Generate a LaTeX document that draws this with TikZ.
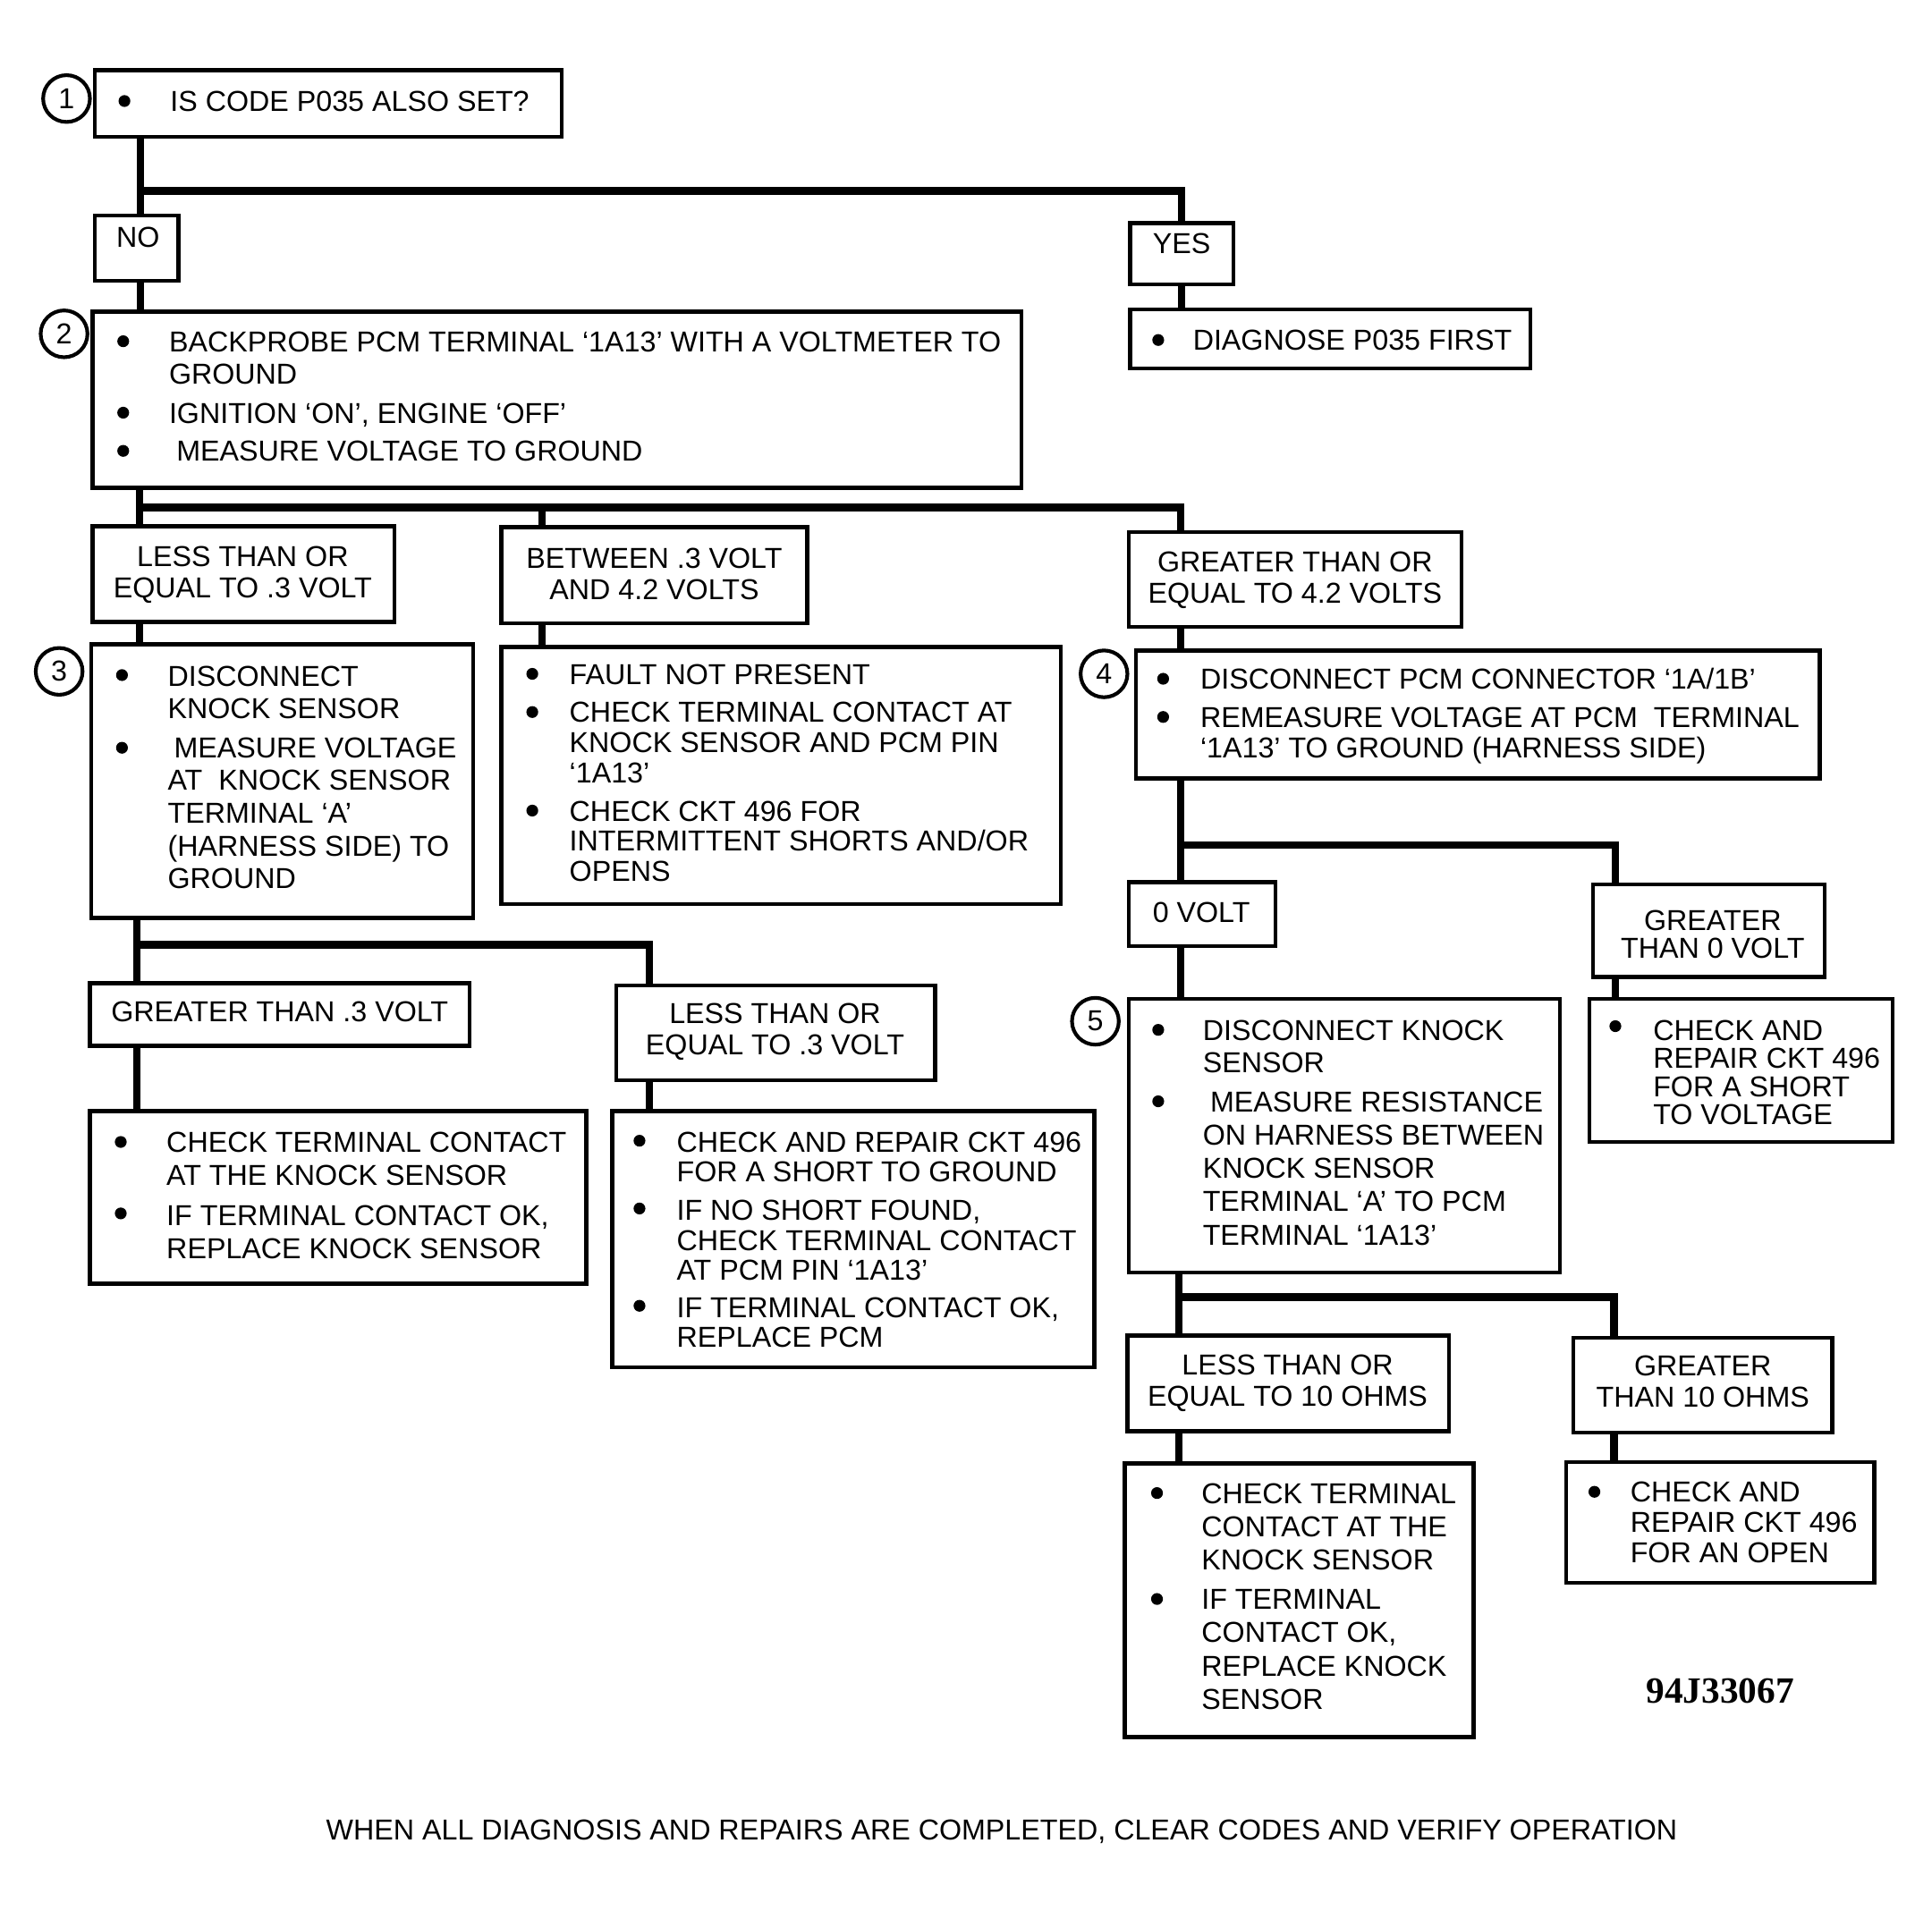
\documentclass[tikz,border=0pt]{standalone}
\usepackage{fontspec}
\setmainfont{Liberation Sans}
\newfontfamily\codefont{Liberation Serif}
\usetikzlibrary{fit}
\newcommand\fs{\fontsize{23.4pt}{27pt}\selectfont}
\newcommand\itemlines[2]{{\fontsize{23.4pt}{#1pt}\selectfont\begin{tabular}[t]{@{}l@{}}#2\end{tabular}}}
\newcommand\clines[2]{{\fontsize{23.4pt}{#1pt}\selectfont\begin{tabular}[t]{@{}c@{}}#2\end{tabular}}}
\begin{document}
\begin{tikzpicture}[x=1pt,y=-1pt,
  box/.style={draw, line width=3.3pt, rectangle, inner sep=0pt},
  conn/.style={line width=6pt, line join=miter},
  num/.style={draw, circle, line width=3pt, minimum size=38pt, inner sep=0pt, font=\fs},
  txt/.style={anchor=base west, inner sep=0pt},
  lbl/.style={anchor=base, inner sep=0pt}]
\useasboundingbox (0,0) rectangle (1568,1551);

% ---------- boxes ----------
\node[box, fit={(77,57) (456,111)}] (b1) {};
\node[box, fit={(77,175) (145,228)}] (no) {};
\node[box, fit={(917,181) (1001,231)}] (yes) {};
\node[box, fit={(917,251) (1242,299)}] (diag) {};
\node[box, fit={(75,253) (829,396)}] (b2) {};
\node[box, fit={(75,427) (320,505)}] (lessA) {};
\node[box, fit={(407,428) (655,506)}] (btw) {};
\node[box, fit={(916,432) (1186,509)}] (gtA) {};
\node[box, fit={(74,523) (384,745)}] (b3) {};
\node[box, fit={(407,525) (861,734)}] (btwres) {};
\node[box, fit={(922,528) (1477,632)}] (b4) {};
\node[box, fit={(73,798) (381,849)}] (gt3) {};
\node[box, fit={(500,800) (759,877)}] (le3b) {};
\node[box, fit={(73,902) (476,1042)}] (gt3res) {};
\node[box, fit={(497,902) (888,1110)}] (le3bres) {};
\node[box, fit={(916,716) (1035,768)}] (zv) {};
\node[box, fit={(1293,718) (1481,793)}] (gt0) {};
\node[box, fit={(916,811) (1266,1033)}] (b5) {};
\node[box, fit={(1290,811) (1536,927)}] (gt0res) {};
\node[box, fit={(915,1084) (1176,1162)}] (le10) {};
\node[box, fit={(1277,1086) (1487,1163)}] (gt10) {};
\node[box, fit={(913,1188) (1196,1410)}] (le10res) {};
\node[box, fit={(1271,1187) (1521,1285)}] (gt10res) {};

% ---------- step numbers ----------
\node[num] (c1) at (54,80) {1};
\node[num] (c2) at (52,271) {2};
\node[num] (c3) at (48,545) {3};
\node[num] (c4) at (896,547) {4};
\node[num] (c5) at (889,829) {5};

% ---------- connectors ----------
\coordinate (j1) at (114,155);
\draw[conn] (b1.south -| j1) -- (no.north -| j1);
\draw[conn] (j1) -| (yes.north);
\draw[conn] (no.south -| j1) -- (b2.north -| j1);
\draw[conn] (yes.south) -- (diag.north -| yes.south);

\coordinate (j2) at (113,412);
\coordinate (j2b) at (440,412);
\coordinate (j2c) at (958,412);
\draw[conn] (b2.south -| j2) -- (lessA.north -| j2);
\draw[conn] (j2) -- (j2c) -- (j2c |- gtA.north);
\draw[conn] (j2b) -- (j2b |- btw.north);
\draw[conn] (lessA.south -| j2) -- (b3.north -| j2);
\draw[conn] (btw.south -| j2b) -- (btwres.north -| j2b);
\draw[conn] (gtA.south -| j2c) -- (b4.north -| j2c);

\coordinate (j3) at (111,767);
\coordinate (j3r) at (527,767);
\draw[conn] (b3.south -| j3) -- (gt3.north -| j3);
\draw[conn] (j3) -- (j3r) -- (j3r |- le3b.north);
\draw[conn] (gt3.south -| j3) -- (gt3res.north -| j3);
\draw[conn] (le3b.south -| j3r) -- (le3bres.north -| j3r);

\coordinate (j4) at (958,686);
\coordinate (j4r) at (1311,686);
\draw[conn] (b4.south -| j4) -- (zv.north -| j4);
\draw[conn] (j4) -- (j4r) -- (j4r |- gt0.north);
\draw[conn] (zv.south -| j4) -- (b5.north -| j4);
\draw[conn] (gt0.south -| j4r) -- (gt0res.north -| j4r);

\coordinate (j5) at (957,1053);
\coordinate (j5r) at (1310,1053);
\draw[conn] (b5.south -| j5) -- (le10.north -| j5);
\draw[conn] (j5) -- (j5r) -- (j5r |- gt10.north);
\draw[conn] (le10.south -| j5) -- (le10res.north -| j5);
\draw[conn] (gt10.south -| j5r) -- (gt10res.north -| j5r);

% ---------- box labels ----------
\node[lbl] (lno) at (112,201) {\clines{25.5}{NO}};
\node[lbl] (lyes) at (959,206) {\clines{25.5}{YES}};
\node[lbl] (llessA) at (197,459.5) {\clines{25.5}{LESS THAN OR\\EQUAL TO .3 VOLT}};
\node[lbl] (lbtw) at (531,461) {\clines{25.5}{BETWEEN .3 VOLT\\AND 4.2 VOLTS}};
\node[lbl] (lgtA) at (1051,464) {\clines{25.5}{GREATER THAN OR\\EQUAL TO 4.2 VOLTS}};
\node[lbl] (lgt3) at (227,829.5) {\clines{25.5}{GREATER THAN .3 VOLT}};
\node[lbl] (lle3b) at (629,831) {\clines{25.5}{LESS THAN OR\\EQUAL TO .3 VOLT}};
\node[lbl] (lzv) at (975,748.5) {\clines{25.5}{0 VOLT}};
\node[lbl] (lgt0) at (1390,755) {\clines{21}{GREATER\\THAN 0 VOLT}};
\node[lbl] (lle10) at (1045,1116) {\clines{25.5}{LESS THAN OR\\EQUAL TO 10 OHMS}};
\node[lbl] (lgt10) at (1382,1117) {\clines{25.5}{GREATER\\THAN 10 OHMS}};

% ---------- bullets ----------
\foreach \p in {(101,82),(940,276),(100,277),(100,335),(100,366),
  (99,548),(99,607),(432,547),(432,578),(432,658),(944,551),(944,582),
  (940,836),(940,894),(1311,833),(939,1212),(939,1298),(1294,1211),
  (98,927),(98,985),(519,926),(519,981),(519,1060)}
  \fill \p circle (4.8pt);

% ---------- texts ----------
\node[txt] (t1) at (138,90.5) {\itemlines{27}{IS CODE P035 ALSO SET?}};
\node[txt] (tdiag) at (968,284.5) {\itemlines{27}{DIAGNOSE P035 FIRST}};
\node[txt] (t2a) at (137,285.5) {\itemlines{26}{BACKPROBE PCM TERMINAL ‘1A13’ WITH A VOLTMETER TO\\GROUND}};
\node[txt] (t2b) at (137,343.5) {\itemlines{27}{IGNITION ‘ON’, ENGINE ‘OFF’}};
\node[txt] (t2c) at (143,374.5) {\itemlines{27}{MEASURE VOLTAGE TO GROUND}};

\node[txt] (t3a) at (136,557) {\itemlines{26}{DISCONNECT\\KNOCK SENSOR}};
\node[txt] (t3b) at (136,615) {\itemlines{26.6}{\hspace*{5pt}MEASURE VOLTAGE\\AT\ \ KNOCK SENSOR\\TERMINAL ‘A’\\(HARNESS SIDE) TO\\GROUND}};

\node[txt] (tba) at (462,555.5) {\itemlines{27}{FAULT NOT PRESENT}};
\node[txt] (tbb) at (462,586.5) {\itemlines{24.5}{CHECK TERMINAL CONTACT AT\\KNOCK SENSOR AND PCM PIN\\‘1A13’}};
\node[txt] (tbc) at (462,666.5) {\itemlines{24.5}{CHECK CKT 496 FOR\\INTERMITTENT SHORTS AND/OR\\OPENS}};

\node[txt] (t4a) at (974,559.5) {\itemlines{27}{DISCONNECT PCM CONNECTOR ‘1A/1B’}};
\node[txt] (t4b) at (974,590.5) {\itemlines{25}{REMEASURE VOLTAGE AT PCM\ \ TERMINAL\\‘1A13’ TO GROUND (HARNESS SIDE)}};

\node[txt] (t5a) at (976,844.5) {\itemlines{26}{DISCONNECT KNOCK\\SENSOR}};
\node[txt] (t5b) at (976,902.5) {\itemlines{27}{\hspace*{6pt}MEASURE RESISTANCE\\ON HARNESS BETWEEN\\KNOCK SENSOR\\TERMINAL ‘A’ TO PCM\\TERMINAL ‘1A13’}};

\node[txt] (tg0) at (1341.5,844.5) {\itemlines{21.8}{CHECK AND\\REPAIR CKT 496\\FOR A SHORT\\TO VOLTAGE}};

\node[txt] (tl10a) at (975,1220.5) {\itemlines{27}{CHECK TERMINAL\\CONTACT AT THE\\KNOCK SENSOR}};
\node[txt] (tl10b) at (975,1306.5) {\itemlines{27}{IF TERMINAL\\CONTACT OK,\\REPLACE KNOCK\\SENSOR}};

\node[txt] (tg10) at (1323,1219.5) {\itemlines{24.5}{CHECK AND\\REPAIR CKT 496\\FOR AN OPEN}};

\node[txt] (tg3a) at (135,935.5) {\itemlines{27}{CHECK TERMINAL CONTACT\\AT THE KNOCK SENSOR}};
\node[txt] (tg3b) at (135,994.5) {\itemlines{27}{IF TERMINAL CONTACT OK,\\REPLACE KNOCK SENSOR}};

\node[txt] (tl3a) at (549,935.5) {\itemlines{24}{CHECK AND REPAIR CKT 496\\FOR A SHORT TO GROUND}};
\node[txt] (tl3b) at (549,990.5) {\itemlines{24.5}{IF NO SHORT FOUND,\\CHECK TERMINAL CONTACT\\AT PCM PIN ‘1A13’}};
\node[txt] (tl3c) at (549,1069.5) {\itemlines{24}{IF TERMINAL CONTACT OK,\\REPLACE PCM}};

\node (code) at (1396,1373) {\codefont\bfseries\fontsize{30pt}{30pt}\selectfont 94J33067};
\node[anchor=base, inner sep=0pt] (foot) at (813,1493.5) {\fs WHEN ALL DIAGNOSIS AND REPAIRS ARE COMPLETED, CLEAR CODES AND VERIFY OPERATION};
\end{tikzpicture}
\end{document}
